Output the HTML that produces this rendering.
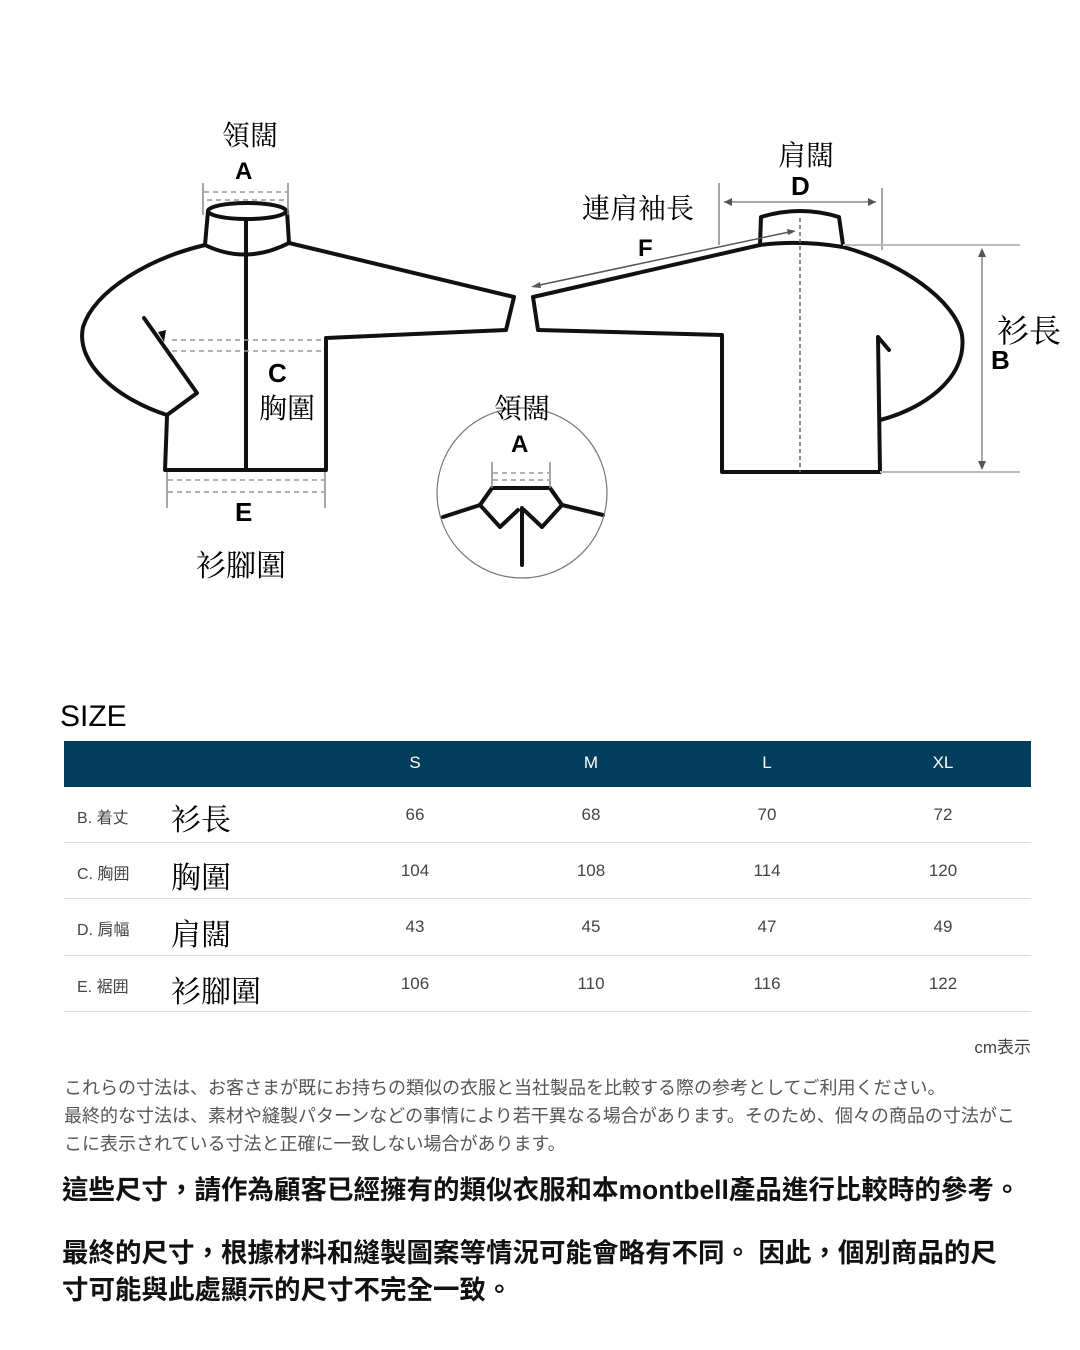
<!DOCTYPE html>
<html><head><meta charset="utf-8"><style>
html,body{margin:0;padding:0;background:#fff;}
body{width:1080px;height:1350px;position:relative;overflow:hidden;font-family:"Liberation Sans","Noto Sans CJK TC",sans-serif;}
.a{position:absolute;white-space:nowrap;}
svg{position:absolute;left:0;top:0;}
.serif{font-family:"Liberation Serif","Noto Serif CJK SC",serif;}
</style></head><body>
<svg width="1080" height="640" viewBox="0 0 1080 640">
<g fill="none" stroke="#111" stroke-width="4" stroke-linejoin="round" stroke-linecap="round">
 <ellipse cx="247" cy="211" rx="39" ry="8"/>
 <path d="M208 211 L205 245 Q246 265 289 243 L287 211"/>
 <line x1="246" y1="219" x2="246" y2="470"/>
 <path d="M289 243 L514 297 L506 330 L326 338 L326 470 L165 470 L167 417"/>
 <path d="M205 245 C150 258 95 290 83 327 C75 365 120 400 167 415 L197 393 L144 318"/>
 <path d="M760 245 L761 217 Q800 205 839 217 L843 245"/>
 <path d="M533 297 L760 245 Q800 240 843 247 C900 262 955 300 962 335 C968 380 920 410 880 420"/>
 <path d="M533 297 L538 330 L722 335 L722 472 L880 472 L878 337 L889 350"/>
 <path d="M443 517 L480 505 L492 488 L550 488 L562 505 L603 515"/>
 <path d="M492 488 L480 505 L500 527 L518 510"/>
 <path d="M550 488 L562 505 L542 527 L524 510"/>
 <path d="M522 508 L522 565"/>
</g>
<g fill="none" stroke="#999" stroke-width="1.5" stroke-dasharray="5 4">
 <line x1="204" y1="192" x2="287" y2="192"/><line x1="207" y1="200" x2="284" y2="200"/>
 <line x1="172" y1="340" x2="324" y2="340"/><line x1="172" y1="351" x2="324" y2="351"/>
 <line x1="168" y1="480" x2="324" y2="480"/><line x1="168" y1="492" x2="324" y2="492"/>
 <line x1="493" y1="473" x2="549" y2="473"/><line x1="493" y1="480" x2="549" y2="480"/>
</g>
<g stroke="#888" stroke-width="1.5" fill="none">
 <line x1="203" y1="183" x2="203" y2="215"/><line x1="288" y1="183" x2="288" y2="215"/>
 <line x1="167" y1="472" x2="167" y2="508"/><line x1="325" y1="472" x2="325" y2="508"/>
 <line x1="492" y1="462" x2="492" y2="488"/><line x1="550" y1="462" x2="550" y2="488"/>
 <circle cx="522" cy="493" r="85" stroke="#777" stroke-width="1.2"/>
 <line x1="719" y1="183" x2="719" y2="245"/><line x1="882" y1="188" x2="882" y2="250"/>
 <line x1="724" y1="202" x2="876" y2="202"/>
 <line x1="843" y1="245" x2="1020" y2="245" stroke="#bbb" stroke-width="2"/>
 <line x1="880" y1="472" x2="1020" y2="472" stroke="#bbb" stroke-width="2"/>
 <line x1="982" y1="250" x2="982" y2="467"/>
 <line x1="535" y1="286" x2="794" y2="231" stroke="#555"/>
 <line x1="800" y1="218" x2="800" y2="472" stroke="#666" stroke-dasharray="4 3"/>
</g>
<g fill="#555">
 <path d="M724 202 l8 -4 v8z"/><path d="M876 202 l-8 -4 v8z"/>
 <path d="M982 248 l-4 9 h8z"/><path d="M982 470 l-4 -9 h8z"/>
 <path d="M531 287 l9 -5 l1 6z"/><path d="M796 231 l-9 -2 l1 6z"/>
 <path d="M164 342 l-6 -10 l8 -2z" fill="#111"/>
</g>
</svg>
<div class="a serif" style="left:222px;top:114px;font-size:28px;">領闊</div>
<div class="a" style="left:235px;top:158px;font-size:24px;font-weight:bold;">A</div>
<div class="a" style="left:268px;top:358px;font-size:26px;font-weight:bold;">C</div>
<div class="a serif" style="left:259px;top:387px;font-size:28px;">胸圍</div>
<div class="a" style="left:235px;top:497px;font-size:26px;font-weight:bold;">E</div>
<div class="a serif" style="left:196px;top:541px;font-size:30px;">衫腳圍</div>
<div class="a serif" style="left:494px;top:387px;font-size:28px;">領闊</div>
<div class="a" style="left:511px;top:431px;font-size:24px;font-weight:bold;">A</div>
<div class="a serif" style="left:778px;top:134px;font-size:28px;">肩闊</div>
<div class="a" style="left:791px;top:171px;font-size:26px;font-weight:bold;">D</div>
<div class="a serif" style="left:582px;top:187px;font-size:28px;">連肩袖長</div>
<div class="a" style="left:638px;top:235px;font-size:24px;font-weight:bold;">F</div>
<div class="a serif" style="left:997px;top:306px;font-size:32px;">衫長</div>
<div class="a" style="left:991px;top:345px;font-size:26px;font-weight:bold;">B</div>

<div class="a" style="left:60px;top:700px;font-size:30px;">SIZE</div>
<div class="a" style="left:64px;top:741px;width:967px;height:46px;background:#033d5c;"></div>
<div class="a" style="left:395px;top:753px;width:40px;text-align:center;color:#fff;font-size:17px;">S</div>
<div class="a" style="left:571px;top:753px;width:40px;text-align:center;color:#fff;font-size:17px;">M</div>
<div class="a" style="left:747px;top:753px;width:40px;text-align:center;color:#fff;font-size:17px;">L</div>
<div class="a" style="left:923px;top:753px;width:40px;text-align:center;color:#fff;font-size:17px;">XL</div>

<div class="a" style="left:64px;top:842px;width:967px;height:1px;background:#ddd;"></div>
<div class="a" style="left:64px;top:898px;width:967px;height:1px;background:#ddd;"></div>
<div class="a" style="left:64px;top:955px;width:967px;height:1px;background:#ddd;"></div>
<div class="a" style="left:64px;top:1011px;width:967px;height:1px;background:#ddd;"></div>

<div class="a" style="left:77px;top:804px;font-size:16px;color:#444;">B. 着丈</div>
<div class="a" style="left:77px;top:860px;font-size:16px;color:#444;">C. 胸囲</div>
<div class="a" style="left:77px;top:916px;font-size:16px;color:#444;">D. 肩幅</div>
<div class="a" style="left:77px;top:973px;font-size:16px;color:#444;">E. 裾囲</div>
<div class="a serif" style="left:171px;top:795px;font-size:30px;">衫長</div>
<div class="a serif" style="left:171px;top:853px;font-size:30px;">胸圍</div>
<div class="a serif" style="left:171px;top:910px;font-size:30px;">肩闊</div>
<div class="a serif" style="left:171px;top:967px;font-size:30px;">衫腳圍</div>

<div class="a" style="left:375px;top:805px;width:80px;text-align:center;font-size:17px;color:#444;">66</div>
<div class="a" style="left:551px;top:805px;width:80px;text-align:center;font-size:17px;color:#444;">68</div>
<div class="a" style="left:727px;top:805px;width:80px;text-align:center;font-size:17px;color:#444;">70</div>
<div class="a" style="left:903px;top:805px;width:80px;text-align:center;font-size:17px;color:#444;">72</div>
<div class="a" style="left:375px;top:861px;width:80px;text-align:center;font-size:17px;color:#444;">104</div>
<div class="a" style="left:551px;top:861px;width:80px;text-align:center;font-size:17px;color:#444;">108</div>
<div class="a" style="left:727px;top:861px;width:80px;text-align:center;font-size:17px;color:#444;">114</div>
<div class="a" style="left:903px;top:861px;width:80px;text-align:center;font-size:17px;color:#444;">120</div>
<div class="a" style="left:375px;top:917px;width:80px;text-align:center;font-size:17px;color:#444;">43</div>
<div class="a" style="left:551px;top:917px;width:80px;text-align:center;font-size:17px;color:#444;">45</div>
<div class="a" style="left:727px;top:917px;width:80px;text-align:center;font-size:17px;color:#444;">47</div>
<div class="a" style="left:903px;top:917px;width:80px;text-align:center;font-size:17px;color:#444;">49</div>
<div class="a" style="left:375px;top:974px;width:80px;text-align:center;font-size:17px;color:#444;">106</div>
<div class="a" style="left:551px;top:974px;width:80px;text-align:center;font-size:17px;color:#444;">110</div>
<div class="a" style="left:727px;top:974px;width:80px;text-align:center;font-size:17px;color:#444;">116</div>
<div class="a" style="left:903px;top:974px;width:80px;text-align:center;font-size:17px;color:#444;">122</div>

<div class="a" style="right:49px;top:1033px;font-size:17px;color:#444;font-family:'Liberation Sans','Noto Sans CJK JP',sans-serif;">cm表示</div>
<div class="a" style="left:64px;top:1074px;font-size:18px;line-height:28px;color:#555;font-family:'Liberation Sans','Noto Sans CJK JP',sans-serif;">これらの寸法は、お客さまが既にお持ちの類似の衣服と当社製品を比較する際の参考としてご利用ください。<br>最終的な寸法は、素材や縫製パターンなどの事情により若干異なる場合があります。そのため、個々の商品の寸法がこ<br>こに表示されている寸法と正確に一致しない場合があります。</div>
<div class="a" style="left:62px;top:1168px;font-size:26.5px;font-weight:bold;color:#111;">這些尺寸，請作為顧客已經擁有的類似衣服和本montbell產品進行比較時的參考。</div>
<div class="a" style="left:62px;top:1235px;font-size:26.5px;font-weight:bold;color:#111;line-height:37px;">最終的尺寸，根據材料和縫製圖案等情況可能會略有不同。 因此，個別商品的尺<br>寸可能與此處顯示的尺寸不完全一致。</div>
</body></html>
